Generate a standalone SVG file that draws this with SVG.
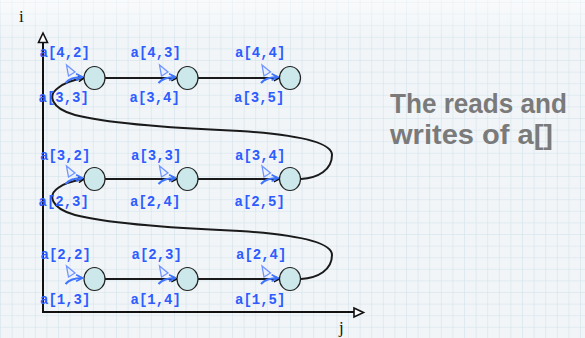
<svg xmlns="http://www.w3.org/2000/svg" width="585" height="338" viewBox="0 0 585 338">
  <defs>
    <pattern id="grid" width="11.6" height="11.6" patternUnits="userSpaceOnUse" x="1" y="3">
      <rect width="11.6" height="11.6" fill="#f1f5f8"/>
      <path d="M11.6,0 V11.6 M0,11.6 H11.6" fill="none" stroke="#cfe1ea" stroke-width="1"/>
    </pattern>
    <linearGradient id="haze" x1="0" y1="0" x2="0" y2="1">
      <stop offset="0" stop-color="#ffffff" stop-opacity="0.55"/>
      <stop offset="1" stop-color="#ffffff" stop-opacity="0"/>
    </linearGradient>
    <marker id="head" viewBox="0 0 10 10" refX="9" refY="5" markerWidth="7" markerHeight="7" markerUnits="userSpaceOnUse" orient="auto">
      <path d="M1,1 L9,5 L1,9" fill="none" stroke="#111" stroke-width="2"/>
    </marker>
    <marker id="bluehead" viewBox="0 0 10 10" refX="9" refY="5" markerWidth="8" markerHeight="8" markerUnits="userSpaceOnUse" orient="auto">
      <path d="M1,1 L9,5 L1,9" fill="none" stroke="#3f74ff" stroke-width="2"/>
    </marker>
    <!-- dependency mark drawn at the left side of every node -->
    <g id="dep">
      <path d="M-28,-13 L-19.5,-6 L-26,-2 Z" fill="#e9f0ff" fill-opacity="0.6" stroke="#6f93ff" stroke-width="1.3"/>
      <path d="M-29,5 Q-24,-1 -12,-1" fill="none" stroke="#3f74ff" stroke-width="2" marker-end="url(#bluehead)"/>
    </g>
  </defs>
  <style>
    .lbl { font-family: "Liberation Mono", "DejaVu Sans Mono", monospace; font-weight: bold; font-size: 14px; fill: #2e5cff; }
    .axlbl { font-family: "Liberation Serif", "DejaVu Serif", serif; font-size: 17px; fill: #111; }
    .note { font-family: "Liberation Sans", "Noto Sans", sans-serif; font-weight: bold; font-size: 27px; fill: #7a7a7a; }
    .node ellipse { fill: #cde8ea; stroke: #222; stroke-width: 1.2; }
    .axis { stroke: #111; stroke-width: 2; fill: none; }
    .conn { stroke: #1a1a1a; stroke-width: 2; fill: none; }
  </style>

  <!-- graph paper -->
  <rect width="585" height="338" fill="url(#grid)"/>
  <rect width="585" height="40" fill="url(#haze)"/>

  <!-- axes -->
  <g id="axes">
    <path class="axis" d="M43,313 V42"/>
    <path class="axis" d="M42,312 H354"/>
    <polygon points="43,33 38.5,42.5 47.5,42.5" fill="#fff" stroke="#111" stroke-width="1.6"/>
    <polygon points="354,308 363.5,312.5 354,317" fill="#fff" stroke="#111" stroke-width="1.6"/>
    <text class="axlbl" x="19" y="21.5">i</text>
    <text class="axlbl" x="339" y="333">j</text>
  </g>

  <!-- connectors -->
  <g id="connectors">
    <path class="conn" d="M105,78 H177" marker-end="url(#head)"/>
    <path class="conn" d="M198,78 H279.5" marker-end="url(#head)"/>
    <path class="conn" d="M105,179 H177" marker-end="url(#head)"/>
    <path class="conn" d="M198,179 H279.5" marker-end="url(#head)"/>
    <path class="conn" d="M105,279 H177" marker-end="url(#head)"/>
    <path class="conn" d="M198,279 H279.5" marker-end="url(#head)"/>
    <path class="conn" d="M301,179 C318,178 332,170 332,155 C332,143 300,135 240,131 C170,128 110,124 75,115 C50,108 48,95 58,88 C64,83 72,80 84,78" marker-end="url(#head)"/>
    <path class="conn" d="M301,279 C318,278 332,270 332,255 C332,243 300,235 240,231 C170,228 110,224 75,215 C50,208 48,195 58,188 C64,183 72,181 84,179" marker-end="url(#head)"/>
  </g>

  <!-- nodes -->
  <g id="n11" class="node"><use href="#dep" x="94.5" y="78"/><ellipse cx="94.5" cy="78" rx="10.5" ry="11.5"/></g>
  <g id="n12" class="node"><use href="#dep" x="187.5" y="78"/><ellipse cx="187.5" cy="78" rx="10.5" ry="11.5"/></g>
  <g id="n13" class="node"><use href="#dep" x="290" y="78"/><ellipse cx="290" cy="78" rx="10.5" ry="11.5"/></g>
  <g id="n21" class="node"><use href="#dep" x="94.5" y="179"/><ellipse cx="94.5" cy="179" rx="10.5" ry="11.5"/></g>
  <g id="n22" class="node"><use href="#dep" x="187.5" y="179"/><ellipse cx="187.5" cy="179" rx="10.5" ry="11.5"/></g>
  <g id="n23" class="node"><use href="#dep" x="290" y="179"/><ellipse cx="290" cy="179" rx="10.5" ry="11.5"/></g>
  <g id="n31" class="node"><use href="#dep" x="94.5" y="279"/><ellipse cx="94.5" cy="279" rx="10.5" ry="11.5"/></g>
  <g id="n32" class="node"><use href="#dep" x="187.5" y="279"/><ellipse cx="187.5" cy="279" rx="10.5" ry="11.5"/></g>
  <g id="n33" class="node"><use href="#dep" x="290" y="279"/><ellipse cx="290" cy="279" rx="10.5" ry="11.5"/></g>

  <!-- access labels -->
  <g id="labels">
    <text class="lbl" x="39.5" y="57">a[4,2]</text>
    <text class="lbl" x="130.5" y="57">a[4,3]</text>
    <text class="lbl" x="235" y="57">a[4,4]</text>
    <text class="lbl" x="38.5" y="102">a[3,3]</text>
    <text class="lbl" x="129.5" y="102">a[3,4]</text>
    <text class="lbl" x="234" y="102">a[3,5]</text>

    <text class="lbl" x="40" y="160">a[3,2]</text>
    <text class="lbl" x="131" y="160">a[3,3]</text>
    <text class="lbl" x="235" y="160">a[3,4]</text>
    <text class="lbl" x="38.5" y="205.5">a[2,3]</text>
    <text class="lbl" x="130" y="205.5">a[2,4]</text>
    <text class="lbl" x="234.5" y="206">a[2,5]</text>

    <text class="lbl" x="40.5" y="259">a[2,2]</text>
    <text class="lbl" x="131.5" y="259">a[2,3]</text>
    <text class="lbl" x="236" y="259">a[2,4]</text>
    <text class="lbl" x="40" y="304">a[1,3]</text>
    <text class="lbl" x="130.5" y="304">a[1,4]</text>
    <text class="lbl" x="235" y="304">a[1,5]</text>
  </g>

  <!-- caption -->
  <g id="caption">
    <text class="note" x="390" y="113" textLength="177" lengthAdjust="spacingAndGlyphs">The reads and</text>
    <text class="note" x="390" y="144" textLength="163" lengthAdjust="spacingAndGlyphs">writes of a[]</text>
  </g>
</svg>
